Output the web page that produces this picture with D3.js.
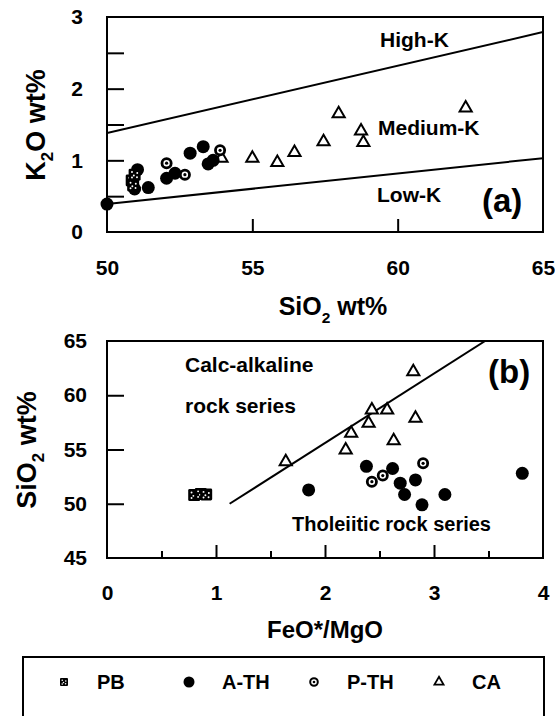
<!DOCTYPE html>
<html>
<head>
<meta charset="utf-8">
<script src="https://cdn.jsdelivr.net/npm/d3@7"></script>
<style>
  html, body { margin: 0; padding: 0; background: #fff; }
  svg { display: block; font-family: "Liberation Sans", Arial, sans-serif; }
</style>
</head>
<body>
<svg id="chart" width="555" height="716"></svg>
<script>
// ---- Panel (a): K2O vs SiO2 ----
const pbSiO2  = [50.85, 50.95, 50.9];
const pbK2O   = [0.72, 0.80, 0.65];
const athSiO2 = [50.0, 51.05, 50.95, 51.42, 52.05, 52.34, 52.86, 53.31, 53.48, 53.65];
const athK2O  = [0.39, 0.87, 0.60, 0.62, 0.75, 0.82, 1.10, 1.19, 0.95, 1.00];
const pthSiO2 = [52.05, 52.68, 53.89];
const pthK2O  = [0.96, 0.80, 1.14];
const caSiO2  = [53.94, 55.0, 55.86, 56.45, 57.45, 57.97, 58.74, 58.82, 62.34];
const caK2O   = [1.03, 1.03, 0.97, 1.11, 1.26, 1.65, 1.41, 1.25, 1.73];
// series boundaries
const highKSiO2 = [50, 65];
const highKK2O  = [1.38, 2.79];
const lowKSiO2  = [50, 65];
const lowKK2O   = [0.39, 1.03];
const aXTicks = [50, 55, 60, 65];
const aYTicks = [0, 1, 2, 3];

// ---- Panel (b): SiO2 vs FeO*/MgO ----
const pbRatio  = [0.80, 0.86, 0.91];
const pbSi     = [50.8, 50.9, 50.85];
const athRatio = [1.85, 2.38, 2.62, 2.69, 2.83, 2.73, 2.89, 3.10, 3.81];
const athSi    = [51.27, 53.45, 53.25, 51.9, 52.2, 50.85, 49.9, 50.85, 52.8];
const pthRatio = [2.43, 2.53, 2.90];
const pthSi    = [52.03, 52.6, 53.73];
const caRatio  = [1.64, 2.19, 2.24, 2.40, 2.43, 2.57, 2.63, 2.81, 2.83];
const caSi     = [53.88, 54.95, 56.49, 57.41, 58.64, 58.64, 55.81, 62.17, 57.87];
// Miyashiro (1974) calc-alkaline / tholeiitic divide
const divideRatio = [1.125, 3.469];
const divideSi    = [50, 65];
const bXTicks = [0, 1, 2, 3, 4];
const bYTicks = [45, 50, 55, 60, 65];

const legendKeys = ["PB", "A-TH", "P-TH", "CA"];

const svg = d3.select("#chart");
const FONT = '"Liberation Sans", Arial, sans-serif';

const xA = d3.scaleLinear().domain([50, 65]).range([107, 543]);
const yA = d3.scaleLinear().domain([0, 3]).range([232, 17]);
const xB = d3.scaleLinear().domain([0, 4]).range([107, 543]);
const yB = d3.scaleLinear().domain([45, 65]).range([558, 341]);

const zip = (a, b) => a.map((v, i) => [v, b[i]]);

// symbol drawers
function drawPB(g, size) {
  const s = size;
  g.append("rect").attr("x", -s / 2).attr("y", -s / 2).attr("width", s).attr("height", s)
    .attr("rx", s * 0.12).attr("fill", "#000");
  const d = s * 0.22, r = Math.max(0.8, s * 0.08);
  [[-d, -d], [d, -d * 0.6], [-d * 0.3, d * 0.3], [d * 0.9, d], [-d, d * 1.1]].forEach(p =>
    g.append("circle").attr("cx", p[0]).attr("cy", p[1]).attr("r", r).attr("fill", "#fff"));
}
function drawATH(g, r) {
  g.append("circle").attr("r", r).attr("fill", "#000");
}
function drawPTH(g, r, sw, dot) {
  g.append("circle").attr("r", r).attr("fill", "#fff").attr("stroke", "#000").attr("stroke-width", sw);
  g.append("circle").attr("r", dot).attr("fill", "#000");
}
function drawCA(g, area, sw) {
  g.append("path").attr("d", d3.symbol(d3.symbolTriangle, area)())
    .attr("fill", "#fff").attr("stroke", "#000").attr("stroke-width", sw).attr("stroke-linejoin", "miter");
}

function panel(opts) {
  const { x, y, clipId } = opts;
  const g = svg.append("g");
  const [x0, x1] = x.range();
  const [y0, y1] = y.range(); // y0 bottom, y1 top

  svg.append("clipPath").attr("id", clipId)
    .append("rect").attr("x", x0).attr("y", y1).attr("width", x1 - x0).attr("height", y0 - y1);

  // boundary lines
  const line = d3.line().x(d => x(d[0])).y(d => y(d[1]));
  opts.lines.forEach(pts => {
    g.append("path").datum(pts).attr("d", line)
      .attr("fill", "none").attr("stroke", "#000").attr("stroke-width", 2)
      .attr("clip-path", `url(#${clipId})`);
  });

  // inner ticks
  const ticksL = g.append("g").attr("transform", `translate(${x0},0)`)
    .call(d3.axisRight(y).tickValues(opts.yTickMarks).tickSize(opts.yTickLen).tickFormat(""));
  ticksL.select(".domain").remove();
  ticksL.selectAll("line").attr("stroke-width", 2);
  opts.xTickMarks.forEach(t => {
    const tg = g.append("g").attr("transform", `translate(0,${y0})`)
      .call(d3.axisTop(x).tickValues(t.values).tickSize(t.len).tickFormat(""));
    tg.select(".domain").remove();
    tg.selectAll("line").attr("stroke-width", 2);
  });

  // tick labels
  const fmt = d3.format("d");
  const lab = g.append("g").attr("transform", `translate(${x0},0)`)
    .call(d3.axisLeft(y).tickValues(opts.yLabels).tickFormat(fmt).tickSize(0).tickPadding(opts.yPad));
  lab.select(".domain").remove();
  lab.selectAll("text").attr("font-family", FONT).attr("font-size", 21).attr("font-weight", "bold").attr("fill", "#000");
  const labx = g.append("g").attr("transform", `translate(0,${y0})`)
    .call(d3.axisBottom(x).tickValues(opts.xLabels).tickFormat(fmt).tickSize(0).tickPadding(opts.xPad));
  labx.select(".domain").remove();
  labx.selectAll("text").attr("font-family", FONT).attr("font-size", 21).attr("font-weight", "bold").attr("fill", "#000");

  // data points
  const pts = g.append("g");
  opts.series.forEach(s => {
    zip(s.xs, s.ys).forEach(d => {
      const sg = pts.append("g").attr("transform", `translate(${x(d[0])},${y(d[1])})`);
      s.draw(sg);
    });
  });

  // frame
  g.append("rect").attr("x", x0).attr("y", y1).attr("width", x1 - x0).attr("height", y0 - y1)
    .attr("fill", "none").attr("stroke", "#000").attr("stroke-width", 2);
  return g;
}

const seriesStyle = {
  PB:  g => drawPB(g, 12),
  ATH: g => drawATH(g, 6.5),
  PTH: g => drawPTH(g, 4.6, 2.8, 1.6),
  CA:  g => drawCA(g, 64, 2)
};

panel({
  x: xA, y: yA, clipId: "clipA",
  lines: [zip(highKSiO2, highKK2O), zip(lowKSiO2, lowKK2O)],
  yTickMarks: [0.5, 1, 1.5, 2, 2.5], yTickLen: 17,
  xTickMarks: [{ values: [55, 60], len: 13 }],
  yLabels: aYTicks, yPad: 24,
  xLabels: aXTicks, xPad: 28,
  series: [
    { xs: caSiO2, ys: caK2O, draw: seriesStyle.CA },
    { xs: athSiO2, ys: athK2O, draw: seriesStyle.ATH },
    { xs: pbSiO2, ys: pbK2O, draw: seriesStyle.PB },
    { xs: pthSiO2, ys: pthK2O, draw: seriesStyle.PTH }
  ]
});

panel({
  x: xB, y: yB, clipId: "clipB",
  lines: [zip(divideRatio, divideSi)],
  yTickMarks: [50, 55, 60], yTickLen: 17,
  xTickMarks: [{ values: [1, 2, 3], len: 13 }, { values: [0.5, 1.5, 2.5, 3.5], len: 7 }],
  yLabels: bYTicks, yPad: 20,
  xLabels: bXTicks, xPad: 27,
  series: [
    { xs: caRatio, ys: caSi, draw: seriesStyle.CA },
    { xs: athRatio, ys: athSi, draw: seriesStyle.ATH },
    { xs: pbRatio, ys: pbSi, draw: seriesStyle.PB },
    { xs: pthRatio, ys: pthSi, draw: seriesStyle.PTH }
  ]
});

// text helper
function txt(x, y, str, size, opts = {}) {
  return svg.append("text").attr("x", x).attr("y", y).text(str)
    .attr("font-family", FONT).attr("font-size", size)
    .attr("font-weight", opts.weight || "bold")
    .attr("text-anchor", opts.anchor || "start").attr("fill", "#000");
}

// region labels, panel (a)
txt(380, 47, "High-K", 21);
txt(378, 135, "Medium-K", 21);
txt(377, 202, "Low-K", 21);
txt(482, 212, "(a)", 33);

// region labels, panel (b)
txt(185, 372, "Calc-alkaline", 21);
txt(185, 413, "rock series", 21);
txt(292, 531, "Tholeiitic rock series", 20);
txt(488, 383, "(b)", 33);

// axis titles with subscripts
function title(x, y, parts, size, rotate) {
  const t = svg.append("text")
    .attr("transform", `translate(${x},${y})` + (rotate ? " rotate(-90)" : ""))
    .attr("text-anchor", "middle").attr("font-family", FONT)
    .attr("font-size", size).attr("font-weight", "bold").attr("fill", "#000");
  const shift = size * 0.3;
  t.append("tspan").text(parts[0]);
  t.append("tspan").attr("font-size", size * 0.62).attr("dy", shift).text(parts[1]);
  t.append("tspan").attr("dy", -shift).text(parts[2]);
  return t;
}
title(333, 315, ["SiO", "2", "\u00a0wt%"], 25, false);
title(45, 125, ["K", "2", "O wt%"], 27, true);
title(36, 450, ["SiO", "2", "\u00a0wt%"], 27, true);
txt(325, 638, "FeO*/MgO", 24, { anchor: "middle" });

// legend
const lg = svg.append("g");
lg.append("rect").attr("x", 23).attr("y", 657).attr("width", 521).attr("height", 80)
  .attr("fill", "none").attr("stroke", "#000").attr("stroke-width", 2);
const legendSym = {
  "PB":   g => drawPB(g, 8),
  "A-TH": g => drawATH(g, 5.5),
  "P-TH": g => drawPTH(g, 3.8, 2, 1.3),
  "CA":   g => drawCA(g, 36, 1.8)
};
const legendX = d3.scalePoint().domain(legendKeys).range([64, 439]);
legendKeys.forEach(k => {
  const sg = lg.append("g").attr("transform", `translate(${legendX(k)},682)`);
  legendSym[k](sg);
  txt(legendX(k) + 33, 689, k, 20);
});
</script>
</body>
</html>
